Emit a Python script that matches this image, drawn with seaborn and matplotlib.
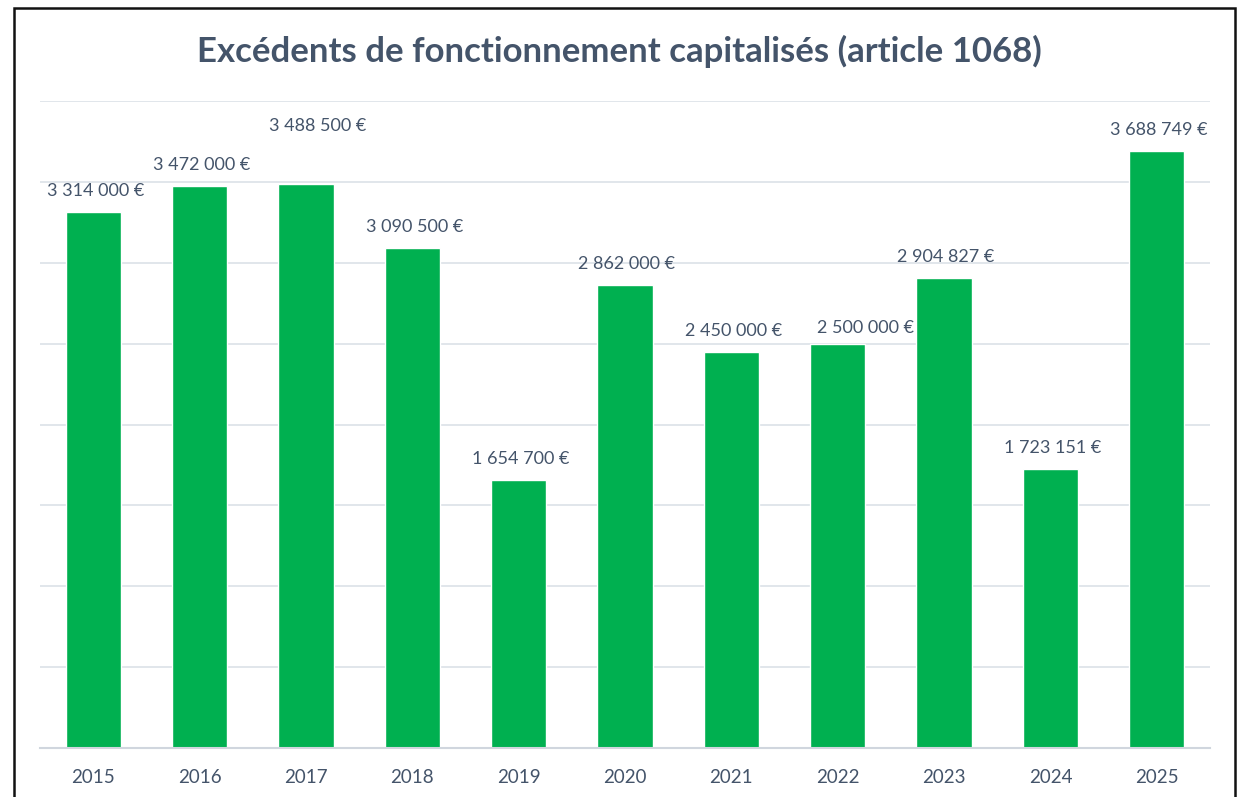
import matplotlib
matplotlib.use("Agg")
import matplotlib.pyplot as plt
import seaborn as sns
import pandas as pd
from matplotlib.patches import Rectangle

years = ["2015", "2016", "2017", "2018", "2019", "2020", "2021", "2022", "2023", "2024", "2025"]
values = [3314000, 3472000, 3488500, 3090500, 1654700, 2862000, 2450000, 2500000, 2904827, 1723151, 3688749]
title = "Excédents de fonctionnement capitalisés (article 1068)"

# label offsets in pixels (style only)
label_dx = {"2017": 10, "2022": 26}
label_dy = {"2017": 59, "2022": 17}

sns.set_theme(style="white")
plt.rcParams['font.family'] = ['Lato', 'DejaVu Sans']

df = pd.DataFrame({"year": years, "value": values})

fig = plt.figure(figsize=(12.39, 7.97), dpi=100)
W, H = 1239, 797
ax = fig.add_axes([40 / W, 1 - 748 / H, 1170 / W, (748 - 101) / H])

sns.barplot(data=df, x="year", y="value", color="#00B050", saturation=1, width=0.52, ax=ax)

ax.set_ylim(0, 4000000)
ax.set_xlim(-0.5, len(years) - 0.5)
ax.set_yticks(range(0, 4000001, 500000))
ax.yaxis.grid(True, color="#DCE1E8", linewidth=1.2)
ax.set_axisbelow(True)
ax.tick_params(axis="y", left=False, labelleft=False)
ax.tick_params(axis="x", bottom=False, labelsize=13.5, labelcolor="#44546A", pad=9)
ax.set_xlabel("")
ax.set_ylabel("")
for s in ["left", "right", "top"]:
    ax.spines[s].set_visible(False)
ax.spines["bottom"].set_color("#D0D6DE")
ax.spines["bottom"].set_linewidth(1.5)

for i, (y, v) in enumerate(zip(years, values)):
    txt = f"{v:,}".replace(",", " ") + " €"
    ax.annotate(txt, (i, v), xytext=(2 + label_dx.get(y, 0), label_dy.get(y, 22) - 1),
                textcoords="offset pixels", ha="center", va="center",
                fontsize=13, color="#44546A")

fig.text(0.5, 1 - 51 / H, title, ha="center", va="center", fontsize=25,
         fontweight="bold", color="#44546A")

fig.patches.append(Rectangle((14 / W, -0.05), (1235 - 14) / W, 1.05 - 8 / H,
                             transform=fig.transFigure, fill=False,
                             edgecolor="#111111", linewidth=1.8))

fig.savefig("out.png", dpi=100)
